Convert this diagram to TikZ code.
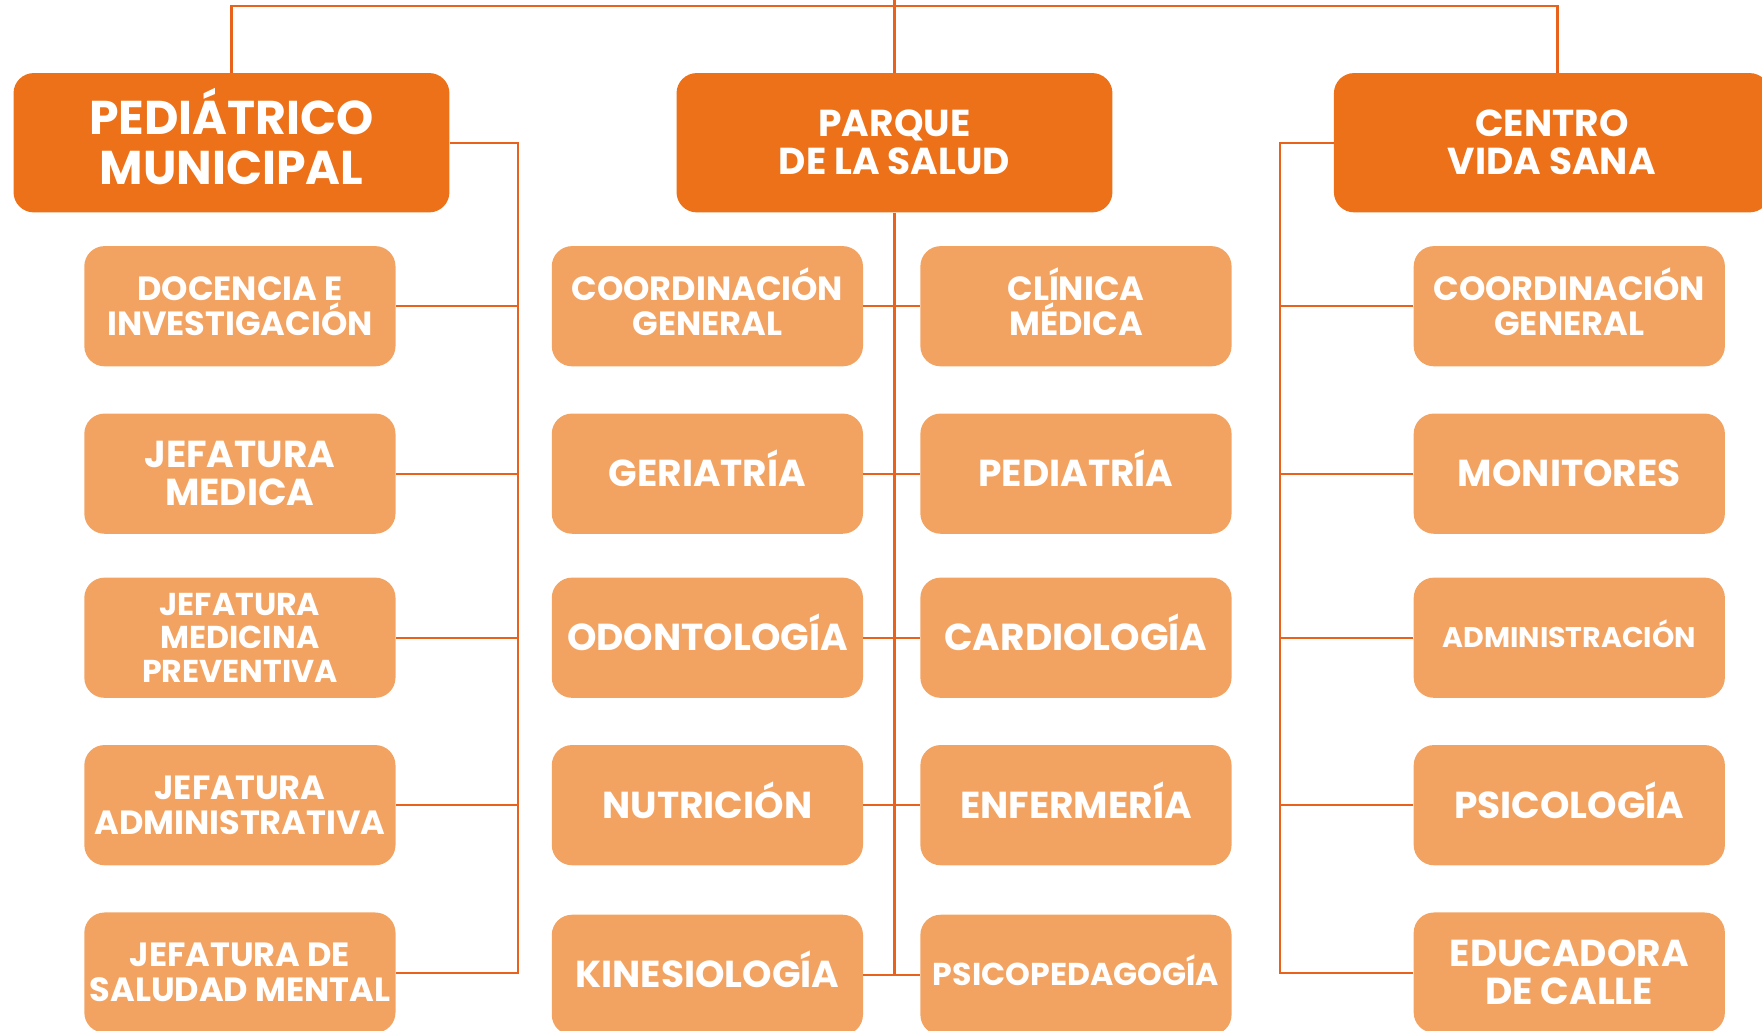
\documentclass[tikz,border=0pt]{standalone}
\usepackage{fontspec}
\setmainfont{Poppins}
\usepackage{tikz}
\usetikzlibrary{calc}
\definecolor{tsOrangeDark}{HTML}{EC7118}
\definecolor{tsOrangeLight}{HTML}{F3A361}
\definecolor{tsOrangeLine}{HTML}{E8621B}
\tikzstyle{tsBox} = [
    rectangle,
    text=white,
    align=center,
    inner sep=0pt,
    text depth=0pt,
    rounded corners=0.36cm
]
\tikzstyle{tsHead} = [
    tsBox,
    fill=tsOrangeDark,
    minimum width=7.76cm,
    minimum height=2.48cm
]
\tikzstyle{tsSub} = [
    tsBox,
    fill=tsOrangeLight,
    minimum width=5.54cm,
    minimum height=2.14cm
]
\tikzstyle{tsHuge} = [font=\bfseries\fontsize{24}{25.2}\selectfont, text height=41.9pt]
\tikzstyle{tsTitle} = [font=\bfseries\fontsize{19}{19.3}\selectfont, text height=32.6pt]
\tikzstyle{tsBig} = [font=\bfseries\fontsize{19}{19.3}\selectfont, text height=13.2pt]
\tikzstyle{tsBigTwo} = [tsBig, text height=32.5pt]
\tikzstyle{tsMid} = [font=\bfseries\fontsize{17}{17.8}\selectfont, text height=29.65pt]
\tikzstyle{tsSmall} = [font=\bfseries\fontsize{16}{17}\selectfont, text height=11.15pt]
\tikzstyle{tsSmallThree} = [tsSmall, text height=45.15pt]
\tikzstyle{tsTiny} = [font=\bfseries\fontsize{14.4}{16}\selectfont, text height=10pt]
\tikzstyle{tsLine} = [draw=tsOrangeLine, line width=1.1pt]

\begin{document}
\begin{tikzpicture}[x=0.02cm, y=-0.02cm]

    \clip (0,0) rectangle (1568,917);

    \node[tsHead, tsHuge] (ped) at (206,127) {PEDIÁTRICO\\MUNICIPAL};
    \node[tsHead, tsTitle] (parque) at (796,127) {PARQUE\\DE LA SALUD};
    \node[tsHead, tsTitle] (centro) at (1381,127) {CENTRO\\VIDA SANA};

    \node[tsSub, tsMid] (l1) at (213.5,272.5) {DOCENCIA E\\INVESTIGACIÓN};
    \node[tsSub, tsBigTwo] (l2) at (213.5,421.5) {JEFATURA\\MEDICA};
    \node[tsSub, tsSmallThree] (l3) at (213.5,567.5) {JEFATURA\\MEDICINA\\PREVENTIVA};
    \node[tsSub, tsMid] (l4) at (213.5,716.5) {JEFATURA\\ADMINISTRATIVA};
    \node[tsSub, tsMid] (l5) at (213.5,865.5) {JEFATURA DE\\SALUDAD MENTAL};

    \node[tsSub, tsMid] (m1) at (629.5,272.5) {COORDINACIÓN\\GENERAL};
    \node[tsSub, tsMid] (m2) at (957.5,272.5) {CLÍNICA\\MÉDICA};
    \node[tsSub, tsBig] (m3) at (629.5,421.5) {GERIATRÍA};
    \node[tsSub, tsBig] (m4) at (957.5,421.5) {PEDIATRÍA};
    \node[tsSub, tsBig] (m5) at (629.5,567.5) {ODONTOLOGÍA};
    \node[tsSub, tsBig] (m6) at (957.5,567.5) {CARDIOLOGÍA};
    \node[tsSub, tsBig] (m7) at (629.5,716.5) {NUTRICIÓN};
    \node[tsSub, tsBig] (m8) at (957.5,716.5) {ENFERMERÍA};
    \node[tsSub, tsBig] (m9) at (629.5,867.5) {KINESIOLOGÍA};
    \node[tsSub, tsSmall] (m10) at (957.5,867.5) {PSICOPEDAGOGÍA};

    \node[tsSub, tsMid] (r1) at (1396.5,272.5) {COORDINACIÓN\\GENERAL};
    \node[tsSub, tsBig] (r2) at (1396.5,421.5) {MONITORES};
    \node[tsSub, tsTiny] (r3) at (1396.5,567.5) {ADMINISTRACIÓN};
    \node[tsSub, tsBig] (r4) at (1396.5,716.5) {PSICOLOGÍA};
    \node[tsSub, tsBigTwo] (r5) at (1396.5,865.5) {EDUCADORA\\DE CALLE};

    \coordinate (top) at (795,5);
    \coordinate (lbus) at (461,127);
    \coordinate (rbus) at (1139,127);

    \draw[tsLine] (ped.north) |- (top) -| ($(centro.north)+(5,0)$);
    \draw[tsLine] (parque.north) -- ++(0,-65);
    \draw[tsLine] (parque.south) -- (parque.south |- m9.east);
    \draw[tsLine] (ped.east) -- (lbus) |- (l5.east);
    \draw[tsLine] (centro.west) -- (rbus) |- (r5.west);

    \foreach \n in {l1,l2,l3,l4}
        \draw[tsLine] (\n.east) -- (\n.east -| lbus);
    \foreach \n in {r1,r2,r3,r4}
        \draw[tsLine] (\n.west) -- (\n.west -| rbus);
    \foreach \a/\b in {m1/m2,m3/m4,m5/m6,m7/m8,m9/m10}
        \draw[tsLine] (\a.east) -- (\b.west);

\end{tikzpicture}
\end{document}
